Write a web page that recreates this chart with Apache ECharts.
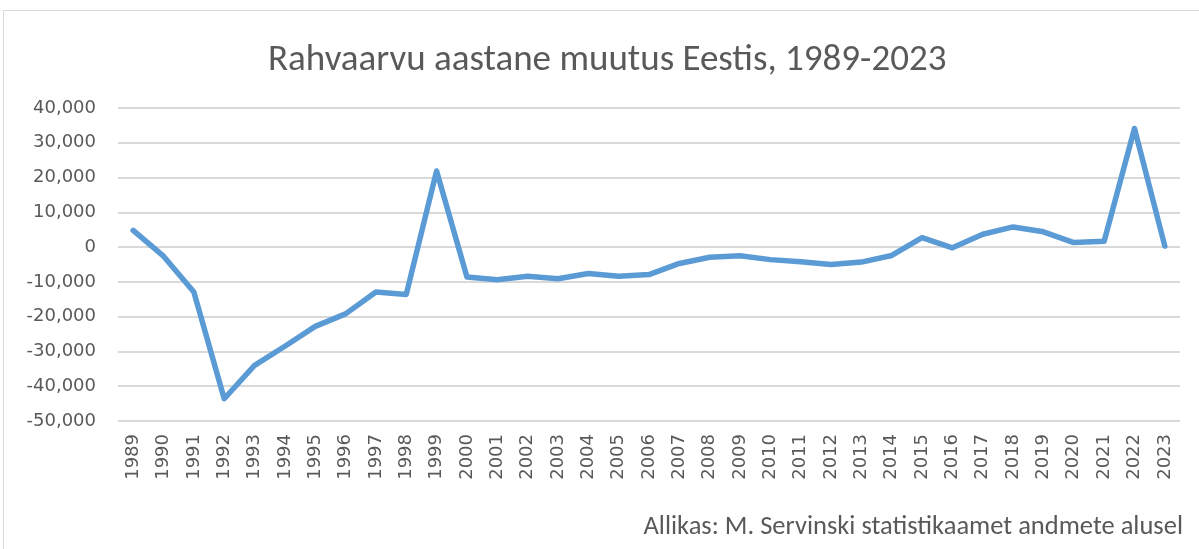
<!DOCTYPE html>
<html>
<head>
<meta charset="utf-8">
<script src="https://cdn.jsdelivr.net/npm/echarts@6/dist/echarts.min.js"></script>
<style>
  html, body { margin: 0; padding: 0; background: #fff; }
  #frame { position: absolute; left: 3px; top: 10px; width: 1200px; height: 545px; border: 1px solid #d9d9d9; box-sizing: border-box; }
  #chart { position: absolute; left: 0; top: 0; width: 1199px; height: 549px; }
</style>
</head>
<body>
<div id="frame"></div>
<div id="chart"></div>
<script>
const years = ['1989','1990','1991','1992','1993','1994','1995','1996','1997','1998','1999','2000',
  '2001','2002','2003','2004','2005','2006','2007','2008','2009','2010','2011','2012','2013',
  '2014','2015','2016','2017','2018','2019','2020','2021','2022','2023'];
const change = [4800, -2600, -12900, -43600, -34000, -28500, -22800, -19200, -12900, -13600, 21900, -8600,
  -9400, -8400, -9100, -7600, -8400, -7900, -4700, -2900, -2500, -3600, -4200, -5000, -4300,
  -2400, 2700, -200, 3700, 5800, 4400, 1300, 1700, 34100, 300];
const yMin = -50000;
const yMax = 40000;
const yStep = 10000;

const chart = echarts.init(document.getElementById('chart'));
const txt = '#595959';
const titleFont = 'Carlito, "Liberation Sans Narrow", sans-serif';
const axisFont = '"DejaVu Sans", Verdana, sans-serif';

chart.setOption({
  animation: false,
  title: {
    text: 'Rahvaarvu aastane muutus Eestis, 1989-2023',
    left: 263,
    top: 37,
    textStyle: { color: txt, fontSize: 37, fontWeight: 'normal', fontFamily: titleFont }
  },
  graphic: [{
    type: 'text',
    right: 16,
    top: 514,
    style: { text: 'Allikas: M. Servinski statistikaamet andmete alusel', fill: txt, fontSize: 26.5, fontFamily: titleFont }
  }],
  grid: { left: 118, right: 19, top: 108, bottom: 128 },
  xAxis: {
    type: 'category',
    data: years,
    boundaryGap: true,
    axisLine: { show: false },
    axisTick: { show: false },
    axisLabel: { rotate: 90, color: txt, fontSize: 18, fontFamily: axisFont, margin: 13, interval: 0 }
  },
  yAxis: {
    type: 'value',
    min: yMin,
    max: yMax,
    interval: yStep,
    axisLine: { show: false },
    axisTick: { show: false },
    axisLabel: {
      color: txt, fontSize: 18, fontFamily: axisFont, margin: 22,
      formatter: v => v.toLocaleString('en-US')
    },
    splitLine: { lineStyle: { color: '#d9d9d9', width: 2 } }
  },
  series: [{
    type: 'line',
    data: change,
    symbol: 'none',
    lineStyle: { color: '#5b9bd5', width: 5.5, join: 'round', cap: 'round' }
  }]
});
</script>
</body>
</html>
